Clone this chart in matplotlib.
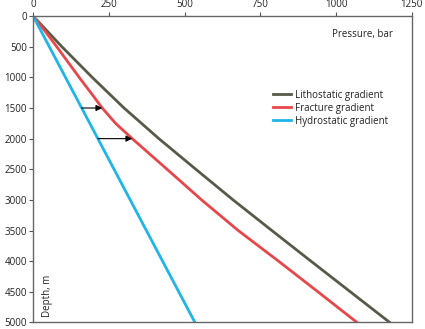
import matplotlib
matplotlib.use("Agg")
import matplotlib.pyplot as plt

plt.rcParams['font.family'] = ['Open Sans', 'DejaVu Sans']

# depth (m) and pressure (bar)
litho_depth = [0, 500, 1000, 1500, 2000, 2500, 3000, 3500, 4000, 4500, 5000]
litho_bar = [0, 95, 195, 300, 415, 537, 660, 788, 917, 1047, 1177]

frac_depth = [0, 250, 500, 1000, 1300, 1500, 1750, 2000, 2500, 3000, 3500, 4000, 4500, 5000]
frac_bar = [0, 40, 78, 152, 198, 228, 272, 327, 442, 556, 677, 810, 940, 1069]

hydro_depth = [0, 5000]
hydro_bar = [0, 534]

# arrows: depth, from (hydrostatic) -> to (fracture)
arrow_depth = [1500, 2000]
arrow_from = [160, 214]
arrow_to = [228, 327]

fig = plt.figure(figsize=(4.25, 3.29), dpi=100)
ax = fig.add_axes([0.078, 0.02, 0.891, 0.931])

ax.plot(litho_bar, litho_depth, color='#585a48', lw=2, label='Lithostatic gradient')
ax.plot(frac_bar, frac_depth, color='#e8474a', lw=2, label='Fracture gradient')
ax.plot(hydro_bar, hydro_depth, color='#1fb5e6', lw=2, label='Hydrostatic gradient')

for d, x0, x1 in zip(arrow_depth, arrow_from, arrow_to):
    ax.annotate('', xy=(x1, d), xytext=(x0, d),
                arrowprops=dict(arrowstyle='-|>', color='black', lw=0.8,
                                mutation_scale=9, shrinkA=0, shrinkB=0))

ax.set_xlim(0, 1250)
ax.set_ylim(5000, 0)
ax.set_xticks([0, 250, 500, 750, 1000, 1250])
ax.set_yticks(range(0, 5001, 500))
ax.xaxis.tick_top()
ax.tick_params(axis='both', labelsize=7, length=3, width=0.8, color='#555555',
               labelcolor='#222222', pad=1.5)
for s in ax.spines.values():
    s.set_color('#666666')
    s.set_linewidth(1)

ax.text(1187, 294, 'Pressure, bar', fontsize=7, ha='right', va='center', color='#222222')
ax.text(49, 4570, 'Depth, m', fontsize=7, rotation=90, ha='center', va='center', color='#222222')

ax.legend(loc='upper left', bbox_to_anchor=(0.62, 0.775), frameon=False,
          fontsize=7, handlelength=1.9, handletextpad=0.4, labelspacing=0.2,
          borderpad=0, labelcolor='#222222')

fig.savefig('out.png', dpi=100)
